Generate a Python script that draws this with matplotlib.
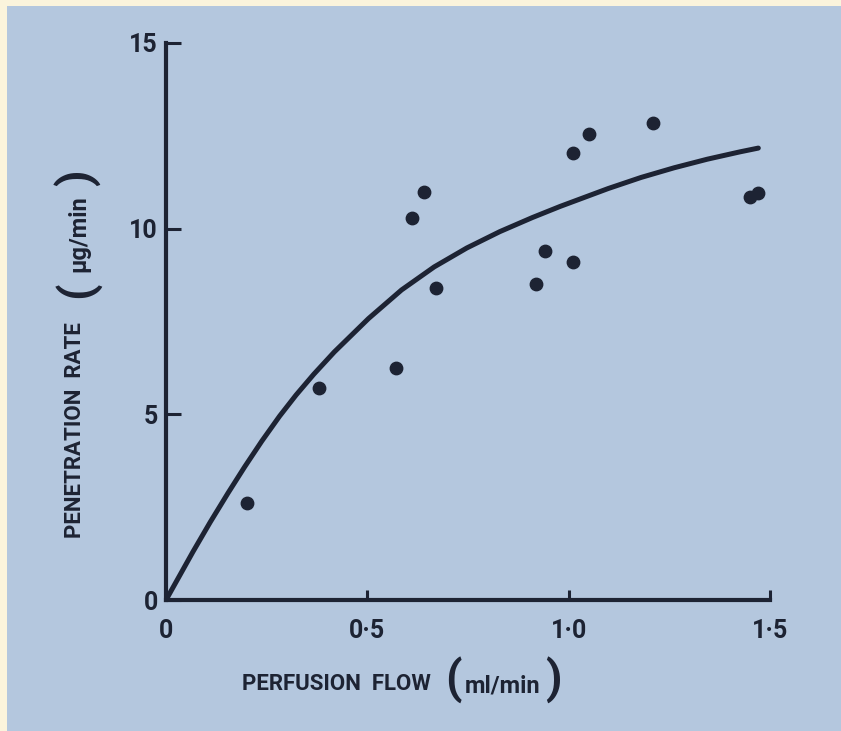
"""Penetration rate vs perfusion flow, redrawn from a scanned figure."""
import matplotlib
matplotlib.use("Agg")
import matplotlib.pyplot as plt
from matplotlib.patches import Rectangle

# measured points (perfusion flow ml/min, penetration rate ug/min)
flow = [0.20, 0.38, 0.57, 0.61, 0.64, 0.67, 0.92, 0.94, 1.01, 1.01, 1.05, 1.21, 1.45, 1.47]
rate = [2.6, 5.7, 6.25, 10.3, 11.0, 8.4, 8.5, 9.4, 9.1, 12.05, 12.55, 12.85, 10.85, 10.95]

# hand-drawn fitted curve
curve_x = [0.0, 0.067, 0.110, 0.154, 0.195, 0.238, 0.282, 0.323, 0.367, 0.418, 0.503,
           0.585, 0.666, 0.747, 0.829, 0.910, 0.979, 1.098, 1.180, 1.262, 1.344, 1.426, 1.471]
curve_y = [0.0, 1.30, 2.10, 2.88, 3.58, 4.28, 4.95, 5.52, 6.08, 6.68, 7.58,
           8.35, 8.97, 9.48, 9.92, 10.30, 10.60, 11.08, 11.38, 11.64, 11.87, 12.07, 12.17]

x_ticks = [0, 0.5, 1.0, 1.5]
x_ticklabels = ["0", "0\u00b75", "1\u00b70", "1\u00b75"]
y_ticks = [0, 5, 10, 15]
y_ticklabels = ["0", "5", "10", "15"]

INK = "#1d2333"
PAPER = "#b4c7de"
BORDER = "#fbf4dc"
FONT = ["Roboto", "DejaVu Sans"]

W, H = 841, 731
fig = plt.figure(figsize=(W / 100, H / 100), dpi=100, facecolor=BORDER)
fig.patches.append(Rectangle((7 / W, 0), 1, 1 - 6 / H, transform=fig.transFigure,
                             facecolor=PAPER, edgecolor="none", zorder=-10))


def px(x, y):
    return x / W, 1 - y / H


left, right, top, bottom = 166, 770, 43, 600
ax = fig.add_axes([left / W, 1 - bottom / H, (right - left) / W, (bottom - top) / H])
ax.set_facecolor("none")
ax.set_zorder(5)

ax.plot(curve_x, curve_y, color=INK, linewidth=3.6, solid_capstyle="round",
        solid_joinstyle="round", zorder=3)
ax.scatter(flow, rate, s=80, color=INK, zorder=4)

ax.set_xlim(0, 1.5)
ax.set_ylim(0, 15)
for side in ["top", "right"]:
    ax.spines[side].set_visible(False)
for side in ["left", "bottom"]:
    ax.spines[side].set_color(INK)
    ax.spines[side].set_linewidth(3)

ax.set_xticks(x_ticks, x_ticklabels, fontfamily=FONT, fontsize=18, fontweight="bold", color=INK)
ax.set_yticks(y_ticks, y_ticklabels, fontfamily=FONT, fontsize=18, fontweight="bold", color=INK)
ax.tick_params(axis="x", direction="in", length=7, width=2.2, color=INK, pad=14)
ax.tick_params(axis="y", direction="in", length=11, width=2.2, color=INK, pad=6)

# axis titles with oversized brackets
label_kw = dict(fontfamily=FONT, fontweight="bold", color=INK, ha="center", va="center")
fig.text(*px(75, 430), "PENETRATION  RATE", rotation=90, fontsize=16, **label_kw)
fig.text(*px(77, 290), "(", rotation=90, fontsize=34, **label_kw)
fig.text(*px(79, 234), "\u03bcg/min", rotation=90, fontsize=17, **label_kw)
fig.text(*px(77, 178), ")", rotation=90, fontsize=34, **label_kw)

fig.text(*px(336, 684), "PERFUSION  FLOW", fontsize=16, **label_kw)
fig.text(*px(453, 680), "(", fontsize=34, **label_kw)
fig.text(*px(503, 686), "ml/min", fontsize=17, **label_kw)
fig.text(*px(553, 680), ")", fontsize=34, **label_kw)

fig.savefig("out.png", dpi=100, facecolor=BORDER)
